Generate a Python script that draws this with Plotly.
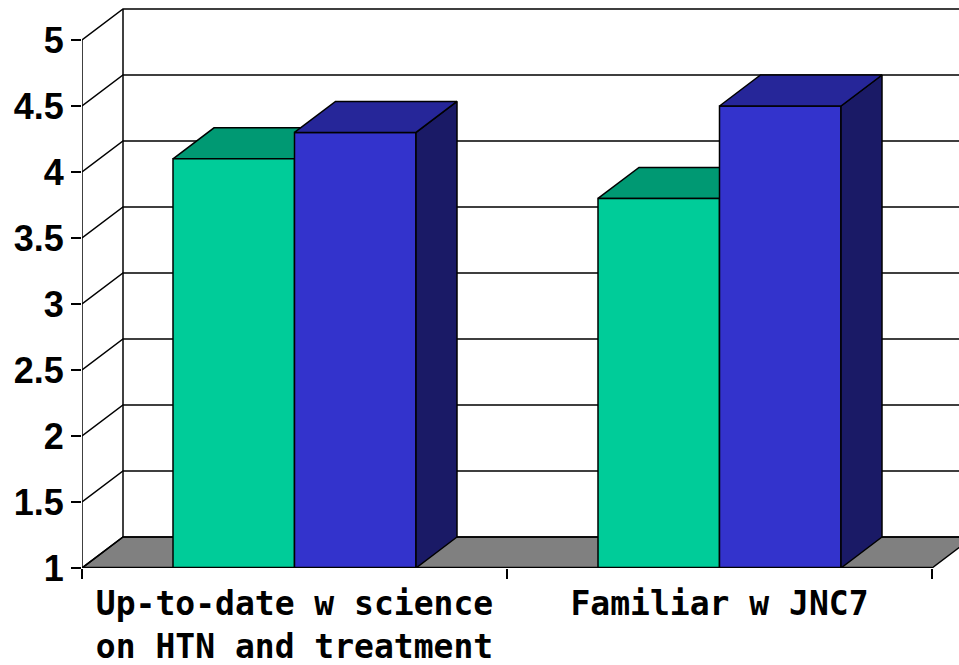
import plotly.graph_objects as go

categories = ["Up-to-date w science<br>on HTN and treatment", "Familiar w JNC7"]
green_values = [4.1, 3.8]
blue_values = [4.3, 4.5]
y_ticks = [1, 1.5, 2, 2.5, 3, 3.5, 4, 4.5, 5]
y_tick_labels = ["1", "1.5", "2", "2.5", "3", "3.5", "4", "4.5", "5"]

GREEN, GREEN_TOP, GREEN_SIDE = "#00CC99", "#009973", "#006B50"
BLUE, BLUE_TOP, BLUE_SIDE = "#3333CC", "#262699", "#1A1A66"
FLOOR = "#808080"
X_FONT = dict(family="DejaVu Sans Mono", size=33, color="black", weight=700)
Y_FONT = dict(family="Liberation Sans", size=36, color="black", weight=700)

# scales of the pseudo-3D frame
W, H = 959, 665
ML, MB = 82, 97
PX_X, PX_Y = 425.0, 132.0
XMAX = (W - ML) / PX_X
YMAX = 1 + (H - MB) / PX_Y
DX, DY = 41 / PX_X, 31 / PX_Y
BAR_W = 121.5 / PX_X
centers = [0.5 + i for i in range(len(categories))]
ncat = len(categories)


def poly(xs, ys, fill, axes="x", lw=1.5):
    return go.Scatter(
        x=xs + xs[:1], y=ys + ys[:1], mode="lines", fill="toself", fillcolor=fill,
        line=dict(color="black", width=lw), hoverinfo="skip", showlegend=False,
        xaxis=axes, yaxis=axes.replace("x", "y"),
    )


def faces(x0, value, top, side, axes):
    x1 = x0 + BAR_W
    return [
        poly([x1, x1 + DX, x1 + DX, x1], [1, 1 + DY, value + DY, value], side, axes),
        poly([x0, x0 + DX, x1 + DX, x1], [value, value + DY, value + DY, value], top, axes),
    ]


fig = go.Figure()

# floor
fig.add_trace(poly([0, DX, ncat + DX, ncat], [1, 1 + DY, 1 + DY, 1], FLOOR, lw=1.5))

# wall gridlines
gx, gy = [], []
for v in y_ticks:
    gx += [0, DX, XMAX + 1, None]
    gy += [v, v + DY, v + DY, None]
fig.add_trace(go.Scatter(x=gx, y=gy, mode="lines", line=dict(color="black", width=1.5),
                         hoverinfo="skip", showlegend=False))
# frame verticals
fig.add_trace(go.Scatter(x=[0, 0, None, DX, DX], y=[y_ticks[0], y_ticks[-1], None, 1 + DY, y_ticks[-1] + DY],
                         mode="lines", line=dict(color="black", width=1.5),
                         hoverinfo="skip", showlegend=False))

# green boxes sit behind the blue ones
for c, v in zip(centers, green_values):
    for t in faces(c - BAR_W, v, GREEN_TOP, GREEN_SIDE, "x"):
        fig.add_trace(t)

# front faces on the overlay subplot
fig.add_trace(go.Bar(x=centers, y=green_values, width=BAR_W, offset=-BAR_W, marker=dict(color=GREEN, line=dict(color="black", width=1.5)),
                     name="Green", showlegend=False, xaxis="x2", yaxis="y2"))
fig.add_trace(go.Bar(x=centers, y=blue_values, width=BAR_W, offset=0, marker=dict(color=BLUE, line=dict(color="black", width=1.5)),
                     name="Blue", showlegend=False, xaxis="x2", yaxis="y2"))
for c, v in zip(centers, blue_values):
    for t in faces(c, v, BLUE_TOP, BLUE_SIDE, "x2"):
        fig.add_trace(t)

# bottom edge of the frame
fig.add_trace(go.Scatter(x=[0, ncat], y=[1, 1], mode="lines", line=dict(color="black", width=2.5),
                         cliponaxis=False, hoverinfo="skip", showlegend=False, xaxis="x2", yaxis="y2"))

fig.update_layout(
    width=W, height=H, margin=dict(l=ML, r=0, t=0, b=MB), autosize=False,
    paper_bgcolor="white", plot_bgcolor="white", showlegend=False, barmode="overlay",
    xaxis=dict(range=[0, XMAX], tickmode="array", tickvals=centers, ticktext=categories,
               ticks="", showgrid=False, zeroline=False, showline=False, tickfont=X_FONT,
               ticklabelstandoff=13, automargin=False,
               minor=dict(tickmode="array", tickvals=list(range(ncat + 1)), ticks="outside", ticklen=10,
                          tickwidth=1.5, tickcolor="black", showgrid=False)),
    yaxis=dict(range=[1, YMAX], tickmode="array", tickvals=y_ticks, ticktext=y_tick_labels,
               ticks="outside", ticklen=10, tickwidth=1.5, tickcolor="black", automargin=False,
               showgrid=False, zeroline=False, showline=False, tickfont=Y_FONT),
    xaxis2=dict(range=[0, XMAX], overlaying="x", visible=False),
    yaxis2=dict(range=[1, YMAX], overlaying="y", visible=False),
)

fig.write_html("out.html", config=dict(displayModeBar=False),
               post_script="document.body.style.margin='0';document.documentElement.style.overflow='hidden';")
